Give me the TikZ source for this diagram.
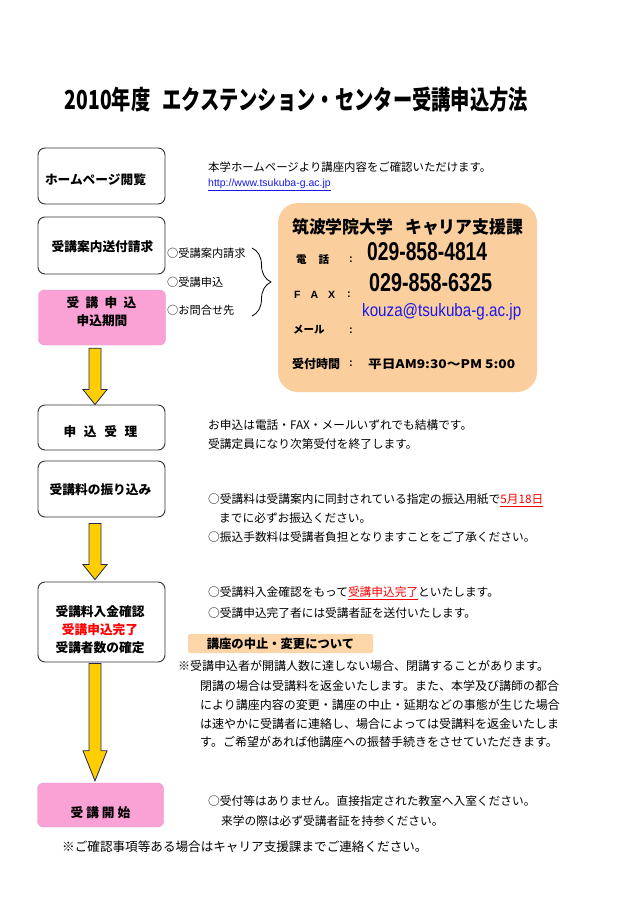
\documentclass[tikz,border=0pt]{standalone}
\usepackage{fontspec}
\setmainfont{Liberation Sans}
\newfontfamily\jp{Noto Sans CJK JP}
\usetikzlibrary{calc,decorations.pathreplacing}
\definecolor{boxpink}{RGB}{250,162,214}
\definecolor{peach}{RGB}{251,206,158}
\definecolor{headpeach}{RGB}{252,214,168}
\definecolor{ayellow}{RGB}{255,206,0}
\definecolor{aline}{RGB}{40,40,70}
\definecolor{lnk}{RGB}{25,25,235}
\definecolor{myred}{RGB}{255,0,0}
\newcommand\fs[1]{\fontsize{#1}{#1}\selectfont}
\newcommand\yarrow[5]{%
  \draw[yarr] let \p1=(#1.south), \p2=(#2.north) in
   (89pt,\y1-#3pt) -- (101pt,\y1-#3pt) -- (101pt,\y2+#4pt+#5pt) -- (107pt,\y2+#4pt+#5pt)
   -- (95pt,\y2+#4pt) -- (83pt,\y2+#4pt+#5pt) -- (89pt,\y2+#4pt+#5pt) -- cycle;}
\begin{document}
\begin{tikzpicture}[x=1pt,y=-1pt,
  box/.style={draw=black!80, line width=0.9pt, rounded corners=7pt, fill=white, minimum width=127pt, inner sep=0pt},
  pbox/.style={fill=boxpink, draw=boxpink!92!black, line width=0.4pt, rounded corners=6pt, minimum width=127pt, inner sep=0pt},
  bt/.style={inner sep=0pt, font=\jp\bfseries\fs{12.7}},
  jt/.style={anchor=west, inner sep=0pt, font=\jp\fs{11.7}},
  lb/.style={anchor=west, inner sep=0pt, font=\jp\bfseries\fs{10.5}},
  yarr/.style={fill=ayellow, draw=aline, line width=0.8pt, line join=miter}]
\useasboundingbox (0,0) rectangle (616,921);
\fill[white] (0,0) rectangle (616,921);

% title
\node[inner sep=0pt] (title) at (296.5,100) {\resizebox{463pt}{22.5pt}{\jp\bfseries 2010年度\hspace{0.6em}エクステンション・センター受講申込方法}};

% left boxes
\node[box, minimum height=56pt] (home) at (101.5,176) {};
\node[bt] (home-t) at (95.5,180) {ホームページ閲覧};
\node[box, minimum height=57pt] (req) at (101.5,245.5) {};
\node[bt] (req-t) at (102.5,247) {受講案内送付請求};
\node[pbox, minimum height=55pt] (pink) at (102,317.5) {};
\node[bt] (pink-t1) at (101.5,303) {受\hspace{0.5em}講\hspace{0.5em}申\hspace{0.5em}込};
\node[bt] (pink-t2) at (102,321) {申込期間};
\node[box, minimum height=45pt] (rec) at (101.5,427.5) {};
\node[bt] (rec-t) at (100.5,432) {申\hspace{0.6em}込\hspace{0.6em}受\hspace{0.6em}理};
\node[box, minimum height=56pt] (pay) at (101.5,489) {};
\node[bt] (pay-t) at (100.5,490) {受講料の振り込み};
\node[box, minimum height=80pt] (conf) at (101.5,622) {};
\node[bt] (conf-t1) at (100,612) {受講料入金確認};
\node[bt, text=myred] (conf-t2) at (100,630) {受講申込完了};
\node[bt] (conf-t3) at (100,648) {受講者数の確定};
\node[pbox, minimum height=44pt, minimum width=126pt] (start) at (100.5,805) {};
\node[bt] (start-t) at (100.5,813) {受\hspace{3pt}講\hspace{3pt}開\hspace{3pt}始};

% arrows
\yarrow{pink}{rec}{3}{0}{15}
\yarrow{pay}{conf}{6}{2}{15}
\yarrow{conf}{start}{1}{2}{30}

% top right
\node[jt, font=\jp\fs{11.4}] (hp) at (208,167) {本学ホームページより講座内容をご確認いただけます。};
\node[anchor=west, inner sep=0pt, text=lnk, font=\fs{10.5}] (url) at (208,184.5) {\underline{http://www.tsukuba-g.ac.jp}};

% items and brace
\node[jt, font=\jp\fs{11.2}] (i1) at (167,253) {○受講案内請求};
\node[jt, font=\jp\fs{11.2}] (i2) at (167,282) {○受講申込};
\node[jt, font=\jp\fs{11.2}] (i3) at (167,310) {○お問合せ先};
\coordinate (bt) at (252,248);
\coordinate (bb) at (252,316);
\draw[decorate, decoration={brace, amplitude=19pt}, line width=0.8pt] (bt) -- (bb);

% contact box
\node[fill=peach, rounded corners=20pt, minimum width=259pt, minimum height=189pt, inner sep=0pt] (contact) at (407.5,297.5) {};
\node[anchor=west, inner sep=0pt] (ct) at (292,227) {\resizebox{231pt}{15pt}{\jp\bfseries 筑波学院大学\hspace{0.7em}キャリア支援課}};
\node[lb] (tel-l) at (296,260) {電\hspace{12pt}話};
\node[inner sep=0pt, font=\bfseries\fs{11}] (tel-c) at (351,260) {:};
\node[anchor=west, inner sep=0pt] (tel) at (367,252) {\resizebox{120pt}{18pt}{\bfseries 029-858-4814}};
\node[lb, font=\bfseries\fs{10.5}] (fax-l) at (294,295) {F\hspace{10pt}A\hspace{10pt}X};
\node[inner sep=0pt, font=\bfseries\fs{11}] (fax-c) at (349,295) {:};
\node[anchor=west, inner sep=0pt] (fax) at (369,283) {\resizebox{123pt}{18pt}{\bfseries 029-858-6325}};
\node[anchor=west, inner sep=0pt, text=lnk] (mail) at (362,312) {\resizebox{159pt}{13pt}{kouza@tsukuba-g.ac.jp}};
\node[lb] (mail-l) at (293,330) {メール};
\node[inner sep=0pt, font=\bfseries\fs{11}] (mail-c) at (351,331) {:};
\node[lb, font=\jp\bfseries\fs{12}] (time-l) at (292,364) {受付時間};
\node[inner sep=0pt, font=\bfseries\fs{11}] (time-c) at (351,364) {:};
\node[anchor=west, inner sep=0pt] (time) at (368,364) {\resizebox{147pt}{9.5pt}{\jp\bfseries 平日AM9:30～PM 5:00}};

% reception
\node[jt] (r1) at (208,425) {お申込は電話・FAX・メールいずれでも結構です。};
\node[jt] (r2) at (208,444) {受講定員になり次第受付を終了します。};

% payment
\node[jt] (p1) at (208,500) {○受講料は受講案内に同封されている指定の振込用紙で\textcolor{myred}{\underline{5月18日}}};
\node[jt] (p2) at (219,518) {までに必ずお振込ください。};
\node[jt] (p3) at (208,537) {○振込手数料は受講者負担となりますことをご了承ください。};

% confirmation
\node[jt] (c1) at (208,593) {○受講料入金確認をもって\textcolor{myred}{\underline{受講申込完了}}といたします。};
\node[jt] (c2) at (208,613) {○受講申込完了者には受講者証を送付いたします。};

\node[fill=headpeach, rounded corners=2pt, minimum width=185pt, minimum height=19pt, inner sep=0pt, font=\jp\bfseries\fs{12.3}] (head) at (280.5,643.5) {講座の中止・変更について};
\node[jt, font=\jp\fs{12}] (n1) at (178,666) {※受講申込者が開講人数に達しない場合、閉講することがあります。};
\node[jt, font=\jp\fs{12}] (n2) at (200,686) {閉講の場合は受講料を返金いたします。また、本学及び講師の都合};
\node[jt, font=\jp\fs{12}] (n3) at (200,705) {により講座内容の変更・講座の中止・延期などの事態が生じた場合};
\node[jt, font=\jp\fs{12}] (n4) at (200,724) {は速やかに受講者に連絡し、場合によっては受講料を返金いたしま};
\node[jt, font=\jp\fs{12}] (n5) at (200,742) {す。ご希望があれば他講座への振替手続きをさせていただきます。};

% start
\node[jt] (s1) at (208,801) {○受付等はありません。直接指定された教室へ入室ください。};
\node[jt] (s2) at (221,821) {来学の際は必ず受講者証を持参ください。};

\node[jt, font=\jp\fs{12.6}] (foot) at (62,847) {※ご確認事項等ある場合はキャリア支援課までご連絡ください。};
\end{tikzpicture}
\end{document}
